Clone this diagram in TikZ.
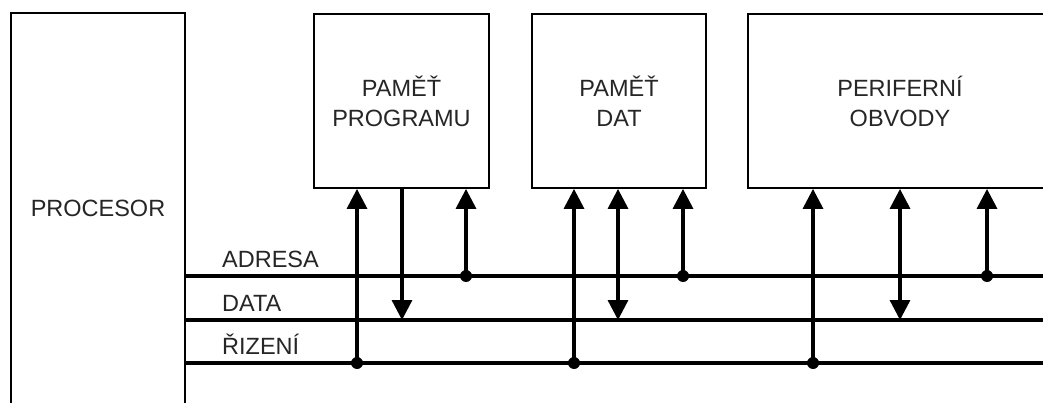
\documentclass[tikz,border=0pt]{standalone}
\usepackage{fontspec}
\setmainfont{Liberation Sans}
\usetikzlibrary{arrows.meta, positioning, calc}

\begin{document}
\begin{tikzpicture}[x=1pt, y=-1pt,
    box/.style={rectangle, draw=black, line width=1.8pt, align=center,
      minimum height=174pt, inner sep=0pt, text=black!85,
      font=\fontsize{23.5}{30}\selectfont},
    bus/.style={line width=3.5pt},
    buslabel/.style={anchor=base west, inner sep=0pt, text=black!85,
      font=\fontsize{23.5}{30}\selectfont},
    tap/.style={line width=3.3pt, -{Triangle[length=20pt, width=20pt]}},
    both/.style={line width=3.3pt,
      {Triangle[length=20pt, width=20pt]}-{Triangle[length=20pt, width=20pt]}},
    joint/.style={circle, fill=black, inner sep=0pt, minimum size=12pt}
  ]
    \useasboundingbox[fill=white] (0,0) rectangle (1043,403);

    \node[box, draw=none, minimum width=172pt, minimum height=389pt]
      (proc) at (98,208.5) {PROCESOR};
    \draw[line width=1.8pt] (proc.south west) -- (proc.north west)
      -- (proc.north east) -- (proc.south east);

    \node[box, minimum width=175pt] (prog) at (401.5,101) {PAMĚŤ\\PROGRAMU};
    \node[box, minimum width=174pt] (mem) at (619,101) {PAMĚŤ\\DAT};
    \node[box, minimum width=304pt] (peri) at (900,101) {PERIFERNÍ\\OBVODY};

    \foreach \name/\y/\txt in {adr/276/ADRESA, dat/320/DATA, riz/363/ŘIZENÍ} {
      \coordinate (\name W) at (proc.east |- 0,\y);
      \coordinate (\name E) at (1043,\y);
      \draw[bus] (\name W) -- (\name E);
      \node[buslabel] (\name L) at (222,\y-9) {\txt};
    }

    \foreach \x/\blk in {357/prog, 574/mem, 813/peri} {
      \node[joint] (r\x) at (\x,363) {};
      \draw[tap] (r\x.center) -- (r\x.center |- \blk.south);
    }
    \foreach \x/\blk in {466/prog, 683/mem, 987/peri} {
      \node[joint] (a\x) at (\x,276) {};
      \draw[tap] (a\x.center) -- (a\x.center |- \blk.south);
    }
    \coordinate (d402) at (402,320);
    \draw[tap] (d402 |- prog.south) -- (d402);
    \foreach \x/\blk in {618/mem, 900/peri} {
      \coordinate (d\x) at (\x,320);
      \draw[both] (d\x |- \blk.south) -- (d\x);
    }
  \end{tikzpicture}
\end{document}
